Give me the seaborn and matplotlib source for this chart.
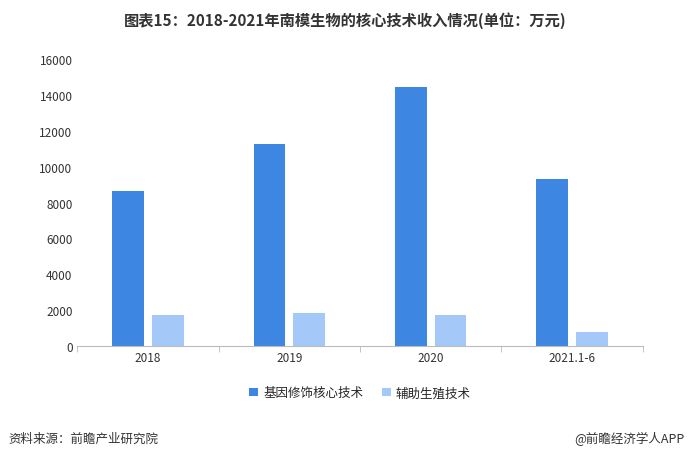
import matplotlib
matplotlib.use("Agg")
import matplotlib.pyplot as plt
import seaborn as sns
import pandas as pd

categories = ["2018", "2019", "2020", "2021.1-6"]
core_tech = [8650, 11270, 14440, 9320]
assist_tech = [1730, 1830, 1740, 790]
series_names = ["基因修饰核心技术", "辅助生殖技术"]

sns.set_style("white")
plt.rcParams['font.family'] = ['Noto Sans CJK SC', 'DejaVu Sans']

df = pd.DataFrame({
    "cat": categories * 2,
    "val": core_tech + assist_tech,
    "series": [series_names[0]] * 4 + [series_names[1]] * 4,
})

fig = plt.figure(figsize=(6.91, 4.60), dpi=100)
ax = fig.add_axes([0.112, 0.245, 0.818, 0.625])
sns.barplot(data=df, x="cat", y="val", hue="series", ax=ax,
            palette=["#3d87e3", "#a4c8f7"], width=0.56, gap=0.2,
            saturation=1, legend=True, linewidth=0, edgecolor="none")
ax.set_xlim(-0.5, 3.5)
ax.set_xlabel("")
ax.set_ylabel("")
ax.set_ylim(0, 16000)
ax.set_yticks(range(0, 16001, 2000))
ax.set_xticks([-0.5, 0.5, 1.5, 2.5, 3.5], minor=True)
ax.tick_params(labelsize=8.5, colors="#333333", length=0)
ax.tick_params(axis="x", which="minor", length=4, color="#bbbbbb", bottom=True)
for s in ["top", "right", "left"]:
    ax.spines[s].set_visible(False)
ax.spines["bottom"].set_color("#bbbbbb")
ax.legend(loc="upper center", bbox_to_anchor=(0.5, -0.1), ncol=2, frameon=False,
          fontsize=9, handlelength=0.7, handleheight=0.7, columnspacing=1.5,
          handletextpad=0.4)
fig.text(0.5, 0.955, "图表15：2018-2021年南模生物的核心技术收入情况(单位：万元)",
         ha="center", va="center", fontsize=11, fontweight="bold", color="#333333")
fig.text(0.012, 0.045, "资料来源：前瞻产业研究院", fontsize=9, color="#333333", va="center")
fig.text(0.99, 0.045, "@前瞻经济学人APP", fontsize=9, color="#333333", va="center", ha="right")
fig.savefig("out.png", dpi=100)
